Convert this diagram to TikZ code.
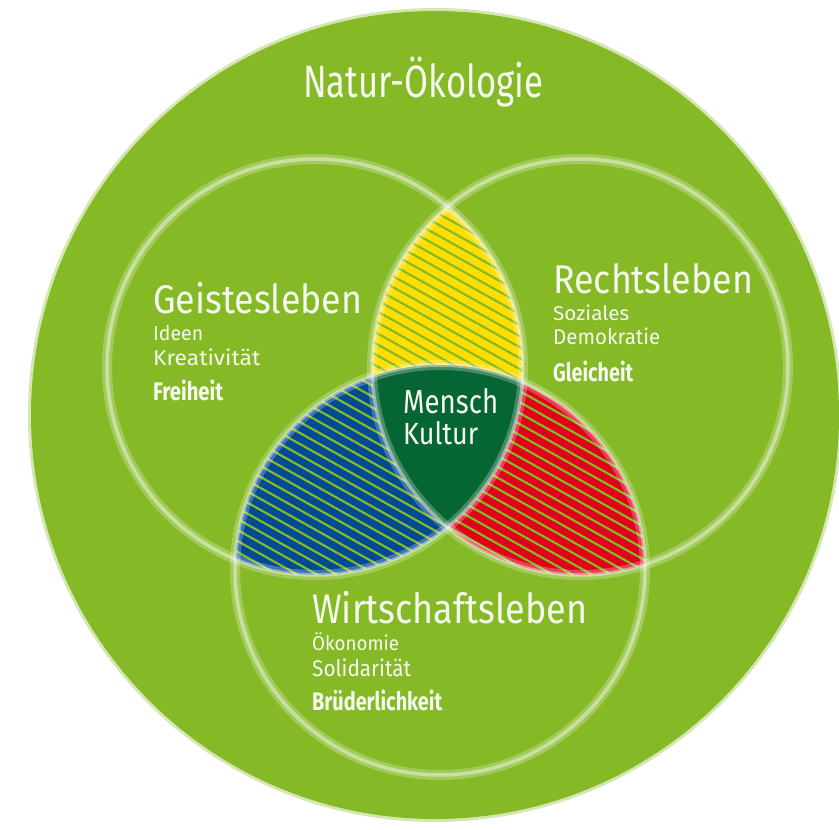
\documentclass[tikz,border=0pt]{standalone}
\usepackage{fontspec}
\setmainfont{Fira Sans}
\usepackage{graphicx}
\definecolor{natgreen}{RGB}{133,186,38}
\definecolor{darkg}{RGB}{6,102,51}
\definecolor{yel}{RGB}{255,222,0}
\definecolor{blu}{RGB}{0,74,150}
\definecolor{rd}{RGB}{226,0,26}
\definecolor{txt}{RGB}{246,249,240}
\tikzset{
  lbl/.style={anchor=base west, inner sep=0pt, text=txt},
  bandsoft/.style={draw=white, opacity=.25, line width=10pt},
  bandcore/.style={draw=white, opacity=.42, line width=3.5pt},
  hatchline/.style={draw=natgreen, line width=2.2pt}
}
% width, height of an "l", text
\newcommand\fitto[3]{\resizebox{#1pt}{#2pt}{\vphantom{l}\smash{#3}}}
\newcommand\hatchfill[1]{%
  \fill[#1] (0,0) rectangle (839,830);
  \foreach \k in {-340,-329,...,820} {\draw[hatchline] (0,\k) -- (839,\k+470);}
}
\begin{document}
\begin{tikzpicture}[x=1pt,y=-1pt]
\useasboundingbox (0,0) rectangle (839,830);
\coordinate (O) at (435,415);
\coordinate (L) at (315,367);
\coordinate (R) at (580,367);
\coordinate (B) at (440,570);
% outer circle
\fill[natgreen, opacity=.35] (O) circle[radius=407];
\fill[natgreen] (O) circle[radius=404];
% yellow lens
\begin{scope}
  \clip (L) circle[radius=208];
  \clip (R) circle[radius=208];
  \hatchfill{yel}
\end{scope}
% blue lens
\begin{scope}
  \clip (L) circle[radius=208];
  \clip (B) circle[radius=205];
  \hatchfill{blu}
\end{scope}
% red lens
\begin{scope}
  \clip (R) circle[radius=208];
  \clip (B) circle[radius=205];
  \hatchfill{rd}
\end{scope}
% centre shield
\begin{scope}
  \clip (L) circle[radius=208];
  \clip (R) circle[radius=208];
  \fill[darkg] (B) circle[radius=205];
\end{scope}
% circle bands
\foreach \c/\r in {L/208,R/208,B/205} {
  \path[bandsoft] (\c) circle[radius=\r];
  \path[bandcore] (\c) circle[radius=\r];
}
% texts
\node[lbl] (natur) at (303,97) {\fitto{240}{34}{Natur-Ökologie}};
\node[lbl] (geist) at (153,313) {\fitto{209}{30}{Geistesleben}};
\node[lbl] (ideen) at (153,340) {\fitto{50}{15}{Ideen}};
\node[lbl] (kreat) at (153,365) {\fitto{107}{16}{Kreativität}};
\node[lbl] (frei) at (153,400) {\fitto{70}{19}{\bfseries Freiheit}};
\node[lbl] (recht) at (553,293) {\fitto{200}{30}{Rechtsleben}};
\node[lbl] (soz) at (553,320) {\fitto{76}{15}{Soziales}};
\node[lbl] (demo) at (553,344) {\fitto{107}{16}{Demokratie}};
\node[lbl] (gleich) at (553,381) {\fitto{80}{19}{\bfseries Gleicheit}};
\node[lbl] (wirt) at (312,623) {\fitto{275}{31}{Wirtschaftsleben}};
\node[lbl] (oeko) at (312,650) {\fitto{87}{15}{Ökonomie}};
\node[lbl] (soli) at (312,676) {\fitto{99}{17}{Solidarität}};
\node[lbl] (brued) at (312,710) {\fitto{130}{19}{\bfseries Brüderlichkeit}};
\node[lbl] (mensch) at (403,413) {\fitto{95}{25}{Mensch}};
\node[lbl] (kultur) at (403,444) {\fitto{75}{23}{Kultur}};
\end{tikzpicture}
\end{document}
